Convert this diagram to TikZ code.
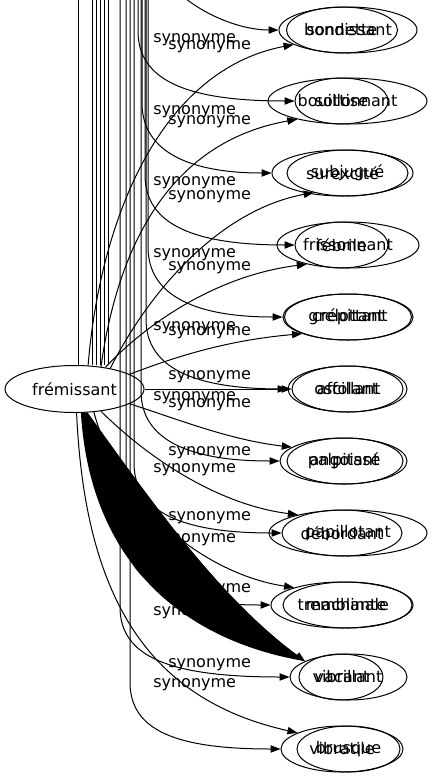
\documentclass[tikz,border=0pt]{standalone}
\usepackage{fontspec}
\setmainfont{DejaVu Sans}
\usetikzlibrary{shapes.geometric,arrows.meta}
\newcommand{\lbl}[1]{\makebox[0pt]{#1}}

\begin{document}
\begin{tikzpicture}[x=0.75pt, y=-0.75pt,
    word/.style={ellipse, draw, line width=0.75pt, inner sep=0pt, minimum height=34.5pt, font=\fontsize{12pt}{14pt}\selectfont},
    syn/.style={-{Triangle[length=7.5pt,width=5.5pt]}, line width=0.75pt},
    rel/.style={anchor=west, inner sep=0pt, font=\fontsize{12pt}{14pt}\selectfont},
  ]
    \useasboundingbox (0,0) rectangle (433,779);
    \clip (0,0) rectangle (433,779);

    % centre word
    \node[word, minimum width=104.25pt, minimum height=35.25pt] (fr) at (74.5,389) {\lbl{frémissant}};

    % synonyms, two per row
    \node[word, minimum width=103.5pt] (r1o) at (348,30) {\lbl{bondissant}};
    \node[word, minimum width=83.25pt] (r1i) at (342,30) {\lbl{sonnette}};
    \node[word, minimum width=119.25pt] (r2o) at (347.5,101) {\lbl{bouillonnant}};
    \node[word, minimum width=69.75pt] (r2i) at (341.5,101) {\lbl{sottise}};
    \node[word, minimum width=105.75pt] (r3o) at (342.5,173) {\lbl{surexcité}};
    \node[word, minimum width=90.75pt] (r3i) at (347.5,173) {\lbl{subjugué}};
    \node[word, minimum width=106.5pt] (r4o) at (348,245) {\lbl{frissonnant}};
    \node[word, minimum width=69.75pt] (r4i) at (341.5,245) {\lbl{fébrile}};
    \node[word, minimum width=97.5pt] (r5o) at (348,317) {\lbl{grelottant}};
    \node[word, minimum width=95.25pt] (r5i) at (348,317) {\lbl{crépitant}};
    \node[word, minimum width=89.25pt] (r6o) at (347.5,389) {\lbl{oscillant}};
    \node[word, minimum width=83.25pt] (r6i) at (347.5,389) {\lbl{affolant}};
    \node[word, minimum width=95.25pt] (r7o) at (343.5,461) {\lbl{palpitant}};
    \node[word, minimum width=87pt] (r7i) at (345,461) {\lbl{angoissé}};
    \node[word, minimum width=118.5pt] (r8o) at (348,533) {\lbl{papillotant}};
    \node[word, minimum width=90pt] (r8i) at (342,533) {\lbl{débordant}};
    \node[word, minimum width=106.5pt] (r9o) at (342,605) {\lbl{tremblante}};
    \node[word, minimum width=96.75pt] (r9i) at (347.5,605) {\lbl{machinale}};
    \node[word, minimum width=87.75pt] (r10o) at (348.5,677) {\lbl{vacillant}};
    \node[word, minimum width=63pt] (r10i) at (341,677) {\lbl{vibrant}};
    \node[word, minimum width=91.5pt] (r11o) at (342,749) {\lbl{vibratile}};
    \node[word, minimum width=77.25pt] (r11i) at (348.5,749) {\lbl{brusque}};

    % edge labels
    \node[rel] (l1a) at (153,40) {synonyme};
    \node[rel] (l1b) at (168,47) {synonyme};
    \node[rel] (l2a) at (153,112) {synonyme};
    \node[rel] (l2b) at (168,122) {synonyme};
    \node[rel] (l3a) at (153,183) {synonyme};
    \node[rel] (l3b) at (168,197) {synonyme};
    \node[rel] (l4a) at (153,255) {synonyme};
    \node[rel] (l4b) at (168,268) {synonyme};
    \node[rel] (l5a) at (153,328) {synonyme};
    \node[rel] (l5b) at (168,333) {synonyme};
    \node[rel] (l6a) at (168,377) {synonyme};
    \node[rel] (l6b) at (153,398) {synonyme};
    \node[rel] (l6c) at (168,405) {synonyme};
    \node[rel] (l7a) at (168,453) {synonyme};
    \node[rel] (l7b) at (153,470) {synonyme};
    \node[rel] (l8a) at (168,518) {synonyme};
    \node[rel] (l8b) at (153,540) {synonyme};
    \node[rel] (l9a) at (168,590) {synonyme};
    \node[rel] (l9b) at (153,613) {synonyme};
    \node[rel] (l10a) at (168,665) {synonyme};
    \node[rel] (l10b) at (153,685) {synonyme};

    % edges leaving the top of the picture
    \coordinate (up1) at (78,-10);
    \coordinate (up2) at (92,-10);
    \coordinate (up3) at (96,-10);
    \coordinate (up4) at (100,-10);
    \coordinate (up5) at (104,-10);
    \coordinate (up6) at (108,-10);
    \draw[line width=0.75pt] (fr.north -| up1) -- (up1);
    \draw[line width=0.75pt] (fr.north -| up2) -- (up2);
    \draw[line width=0.75pt] (fr.north -| up3) -- (up3);
    \draw[line width=0.75pt] (fr.north -| up4) -- (up4);
    \draw[line width=0.75pt] (fr.north -| up5) -- (up5);
    \draw[line width=0.75pt] (fr.north -| up6) -- (up6);

    % edges coming down from above
    \coordinate (top1) at (150,-50);
    \coordinate (top2) at (138,-10);
    \coordinate (top3) at (142,-10);
    \coordinate (top4) at (145,-10);
    \coordinate (top5) at (148,-10);
    \coordinate (top6) at (146,-10);
    \coordinate (top7) at (141,-10);
    \coordinate (top8) at (134,-10);
    \coordinate (top9) at (126,-10);
    \coordinate (top10) at (120,-10);
    \coordinate (top11) at (130,-10);
    \draw[syn] (top1) .. controls (165,0) and (230,30) .. (r1o.west);
    \draw[syn] (top2) -- (138,31) .. controls (138,81) and (188,101) .. (r2i.west);
    \draw[syn] (top3) -- (142,103) .. controls (142,153) and (192,173) .. (r3o.west);
    \draw[syn] (top4) -- (145,175) .. controls (145,225) and (195,245) .. (r4i.west);
    \draw[syn] (top5) -- (148,247) .. controls (148,297) and (198,317) .. (r5o.west);
    \draw[syn] (top6) -- (146,319) .. controls (146,369) and (196,389) .. (r6i.west);
    \draw[syn] (top7) -- (141,391) .. controls (141,441) and (191,461) .. (r7o.west);
    \draw[syn] (top8) -- (134,463) .. controls (134,513) and (184,533) .. (r8i.west);
    \draw[syn] (top9) -- (126,535) .. controls (126,585) and (176,605) .. (r9o.west);
    \draw[syn] (top10) -- (120,607) .. controls (120,657) and (170,677) .. (r10o.west);
    \draw[syn] (top11) -- (130,685) .. controls (132,730) and (175,749) .. (r11o.west);

    % edges from the centre word
    \draw[syn] (fr.60) .. controls (100,220) and (160,70) .. (r1o.195);
    \draw[syn] (fr.40) .. controls (120,230) and (180,140) .. (r2o.200);
    \draw[syn] (fr.30) .. controls (150,290) and (220,210) .. (r3i.210);
    \draw[syn] (fr.35) .. controls (150,320) and (220,275) .. (r4o.205);
    \draw[syn] (fr.15) .. controls (180,355) and (230,340) .. (r5o.200);
    \draw[syn] (fr.east) -- (r6o.west);
    \draw[syn] (fr.-15) .. controls (180,420) and (230,440) .. (r7o.165);
    \draw[syn] (fr.-40) .. controls (150,460) and (220,505) .. (r8o.160);
    \draw[syn] (fr.-50) .. controls (120,510) and (210,575) .. (r9o.160);
    \fill (fr.-75) .. controls (90,560) and (180,640) .. (r10o.160) .. controls (220,600) and (150,500) .. (fr.-62) -- cycle;
    \draw[syn] (fr.-62) .. controls (150,500) and (220,600) .. (r10o.160);
    \draw[syn] (fr.-85) .. controls (85,600) and (150,700) .. (r11o.160);

\end{tikzpicture}
\end{document}
